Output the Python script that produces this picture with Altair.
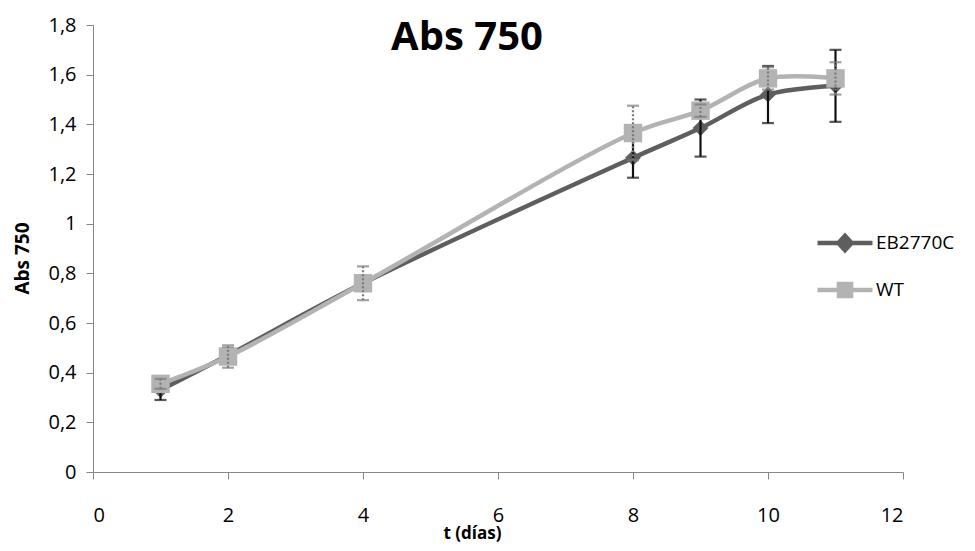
import altair as alt
import pandas as pd

days = [1, 2, 4, 8, 9, 10, 11]
eb_vals = [0.33, 0.47, 0.76, 1.265, 1.385, 1.52, 1.555]
eb_err = [0.04, 0.03, 0.03, 0.08, 0.115, 0.115, 0.145]
wt_vals = [0.355, 0.465, 0.76, 1.365, 1.455, 1.585, 1.585]
wt_err = [0.02, 0.045, 0.068, 0.11, 0.025, 0.045, 0.065]

series_names = ["EB2770C", "WT"]
series_colors = ["#5e5e5e", "#b3b3b3"]
x_ticks = [0, 2, 4, 6, 8, 10, 12]
y_ticks = [0, 0.2, 0.4, 0.6, 0.8, 1.0, 1.2, 1.4, 1.6, 1.8]

rows = []
for name, vals, errs in [("EB2770C", eb_vals, eb_err), ("WT", wt_vals, wt_err)]:
    for d, v, e in zip(days, vals, errs):
        rows.append({"t": d, "abs": v, "lo": v - e, "hi": v + e, "serie": name})
df = pd.DataFrame(rows)

FONT = "Open Sans"
AXIS_COLOR = "#868686"
LABEL_EXPR = "replace(format(datum.value, '~g'), '.', ',')"

x_enc = alt.X(
    "t:Q",
    scale=alt.Scale(domain=[0, 12], nice=False),
    axis=alt.Axis(
        values=x_ticks, title="t (días)", grid=False,
        domainColor=AXIS_COLOR, tickColor=AXIS_COLOR, tickSize=7,
        labelFont=FONT, labelFontSize=20, labelColor="#000", labelPadding=26,
        labelExpr=LABEL_EXPR,
        titleFont=FONT, titleFontSize=17, titleFontWeight="bold", titleColor="#000",
        titleX=379, titleY=61, titleBaseline="middle", titleAlign="center",
    ),
)
y_axis = alt.Axis(
    values=y_ticks, title="Abs 750", grid=False,
    domainColor=AXIS_COLOR, tickColor=AXIS_COLOR, tickSize=7,
    labelFont=FONT, labelFontSize=20, labelColor="#000", labelPadding=10,
    labelExpr=LABEL_EXPR,
    titleFont=FONT, titleFontSize=19, titleFontWeight="bold", titleColor="#000",
    titleX=-71, titleY=233, titleBaseline="middle", titleAlign="center", titleAngle=-90,
)
y_scale = alt.Scale(domain=[0, 1.8], nice=False)

eb_path = "M-1,0L1,0M-0.24,0L0,-0.26L0.24,0L0,0.26Z"
wt_path = "M-1,0L1,0M-0.22,-0.22L0.22,-0.22L0.22,0.22L-0.22,0.22Z"
legend = alt.Legend(
    title=None, orient="none", legendX=722, legendY=188,
    symbolSize=3025, symbolStrokeWidth=4.5, symbolOpacity=1,
    labelFont=FONT, labelFontSize=19, labelColor="#000", labelOffset=1,
    rowPadding=-11,
)
col_scale = alt.Scale(domain=series_names, range=series_colors)

base = alt.Chart(df)


def series_layers(name, color, shape, size, err_color, err_dash):
    src = base.transform_filter(alt.datum.serie == name)
    line = src.mark_line(strokeWidth=4.5, interpolate="catmull-rom", color=color).encode(
        x=x_enc, y=alt.Y("abs:Q", scale=y_scale, axis=y_axis)
    )
    pts = src.mark_point(filled=True, shape=shape, size=size, opacity=1, color=color).encode(
        x="t:Q", y="abs:Q"
    )
    rule_kwargs = dict(color=err_color, strokeWidth=2.2)
    tick_kwargs = dict(color=err_color, thickness=2.2, size=12, orient="horizontal")
    if err_dash:
        rule_kwargs["strokeDash"] = err_dash
        tick_kwargs["strokeDash"] = err_dash
    rule = src.mark_rule(**rule_kwargs).encode(x="t:Q", y="lo:Q", y2="hi:Q")
    cap_lo = src.mark_tick(**tick_kwargs).encode(x="t:Q", y="lo:Q")
    cap_hi = src.mark_tick(**tick_kwargs).encode(x="t:Q", y="hi:Q")
    return [line, pts, rule, cap_lo, cap_hi]


legend_layer = base.mark_point(size=0, filled=True).encode(
    x="t:Q", y="abs:Q",
    fill=alt.Fill("serie:N", scale=col_scale, legend=legend),
    stroke=alt.Stroke("serie:N", scale=col_scale, legend=legend),
    shape=alt.Shape("serie:N", scale=alt.Scale(domain=series_names, range=[eb_path, wt_path]), legend=legend),
)

layers = series_layers("EB2770C", series_colors[0], "diamond", 250, "#111111", None) + \
    series_layers("WT", series_colors[1], "square", 340, "#7a7a7a", [2, 2]) + [legend_layer]

chart = alt.layer(*layers).properties(
    width=810, height=447,
    autosize=alt.AutoSizeParams(type="none"),
    padding={"left": 85, "top": 17, "right": 64, "bottom": 71},
    title=alt.TitleParams(
        "Abs 750", font=FONT, fontSize=40, fontWeight="bold", color="#000",
        anchor="middle", dx=-31, dy=75, baseline="alphabetic", offset=0,
    ),
).configure_view(stroke=None)

chart.save("out.html", embed_options={"renderer": "svg", "actions": False})
